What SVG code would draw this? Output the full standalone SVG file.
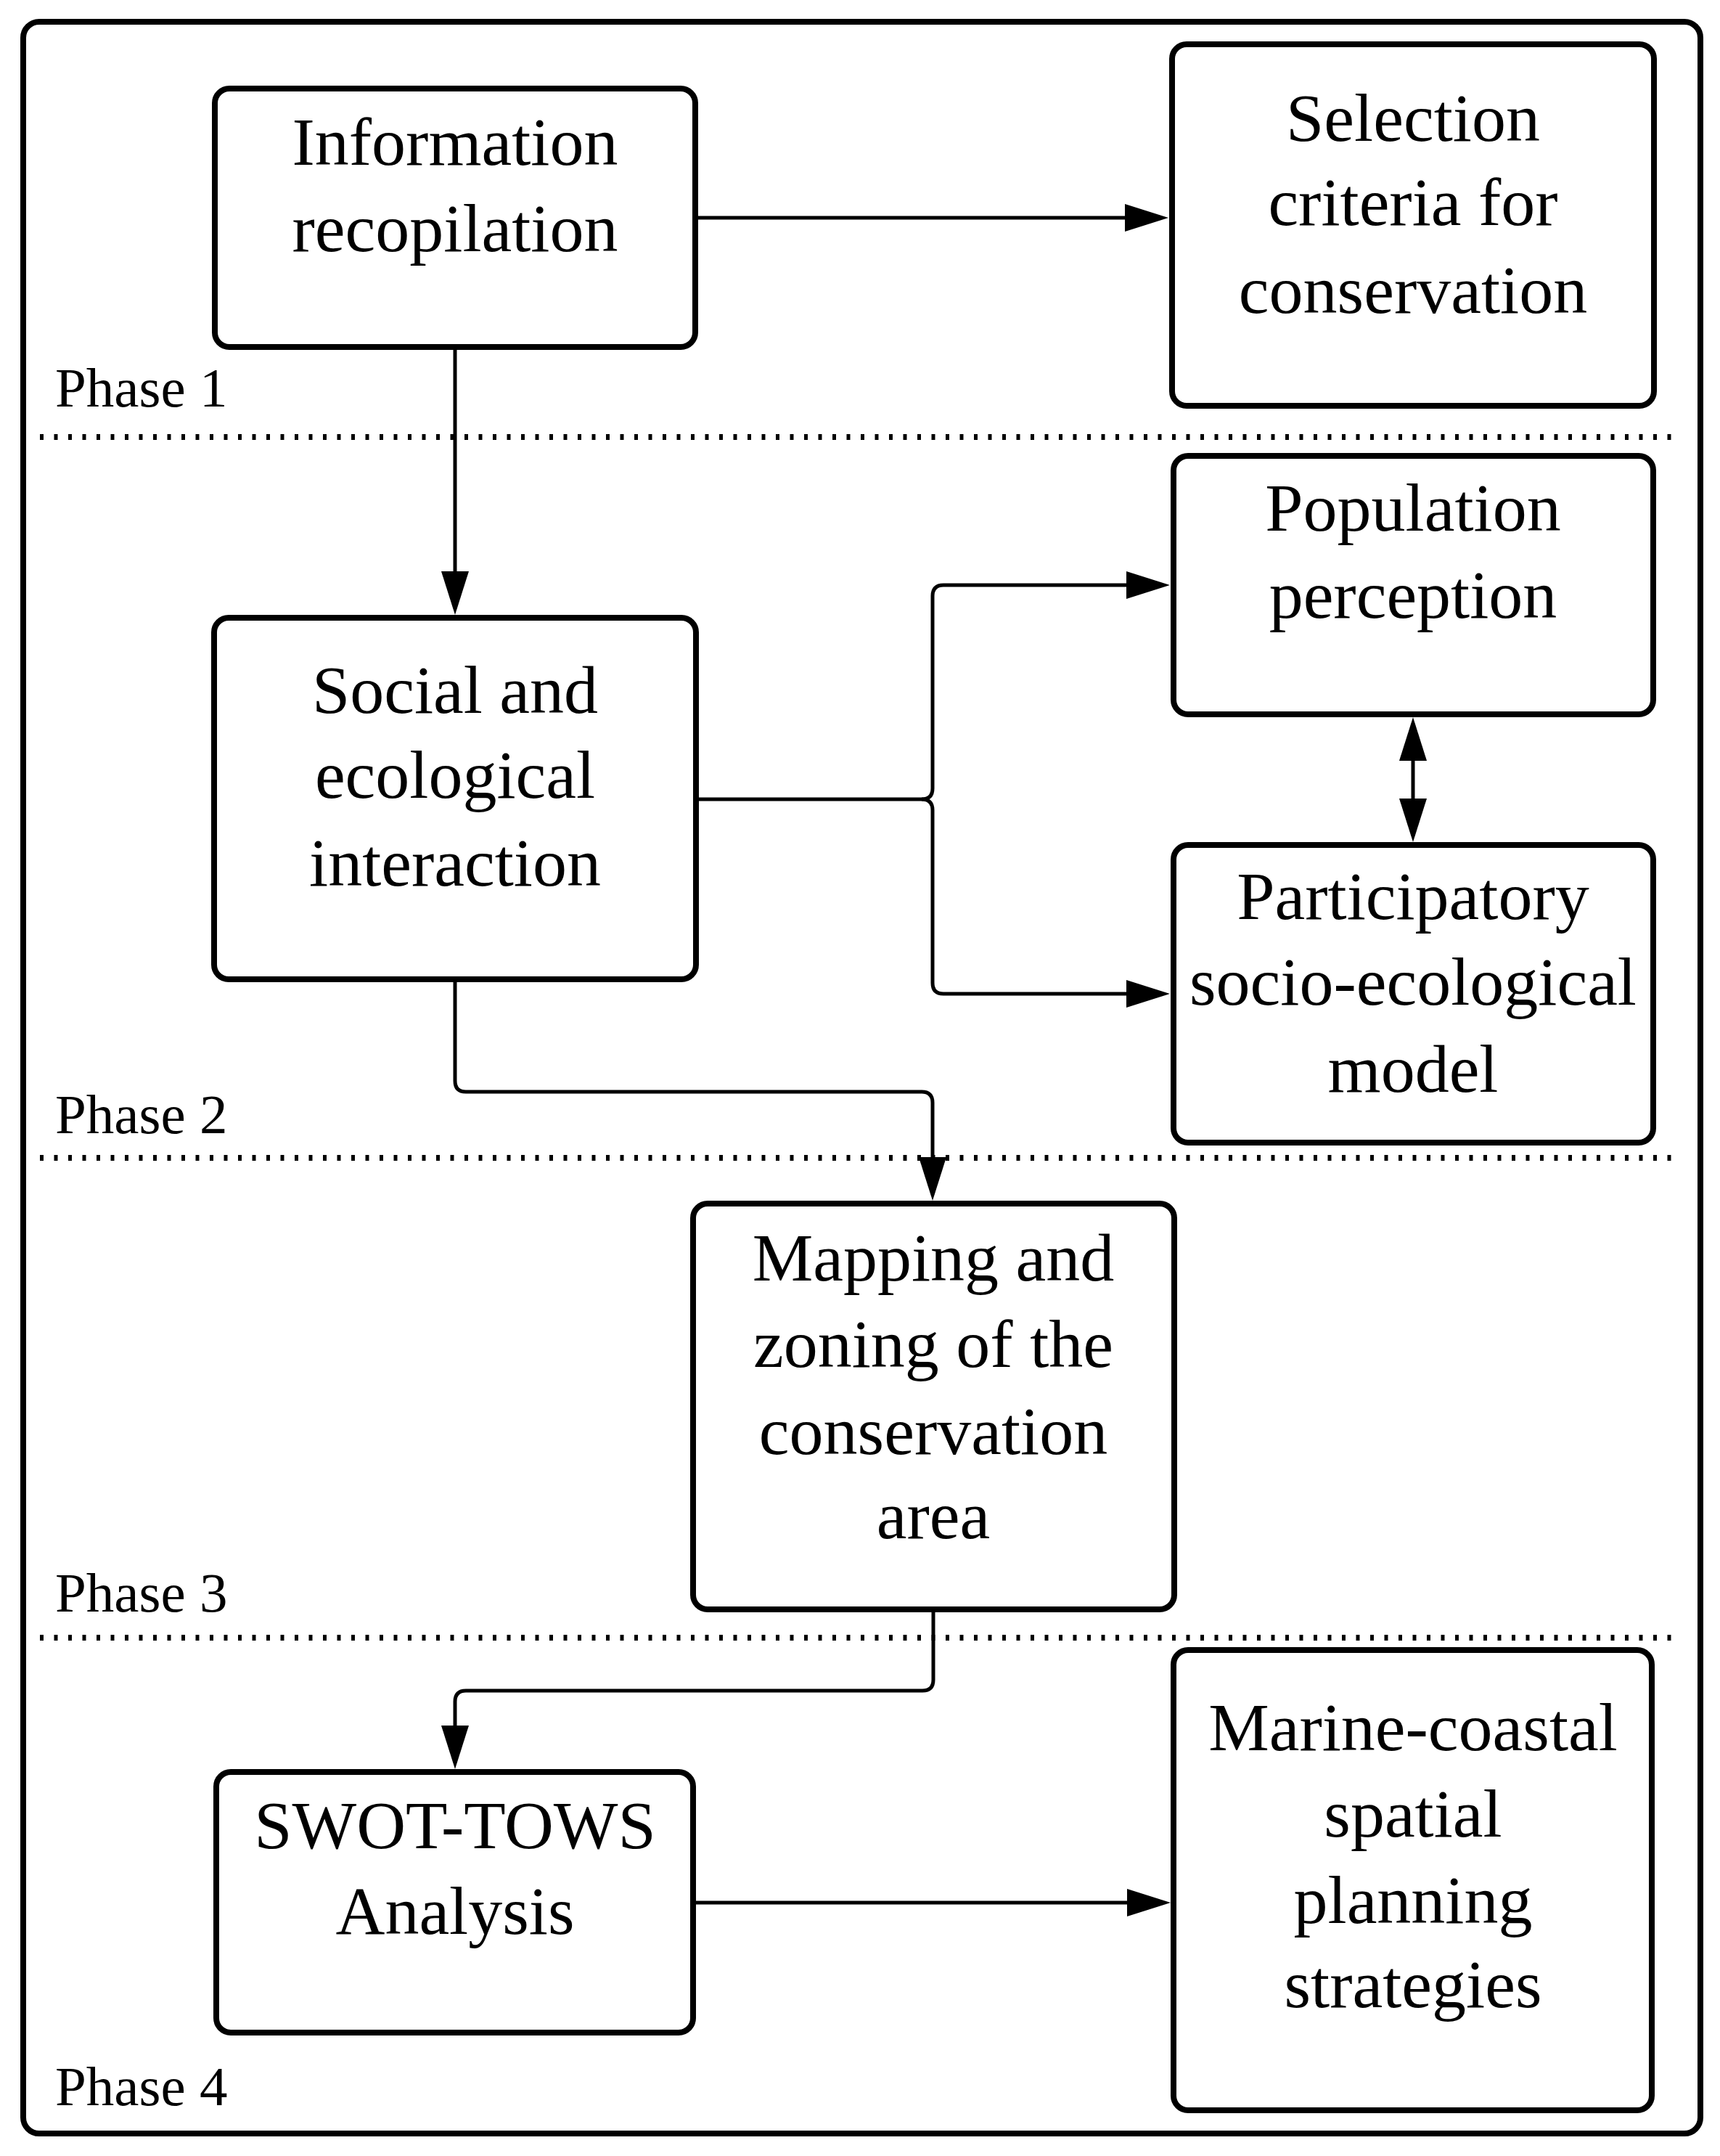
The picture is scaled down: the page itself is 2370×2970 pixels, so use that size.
<svg xmlns="http://www.w3.org/2000/svg" width="2370" height="2970" viewBox="0 0 2370 2970">
<style>
.box{fill:#fff;stroke:#000;stroke-width:8}
.lbl{font-family:"Liberation Serif","Times New Roman",serif;font-size:94px;text-anchor:middle;fill:#000}
.ph{font-family:"Liberation Serif","Times New Roman",serif;font-size:77px;fill:#000}
.con{fill:none;stroke:#000;stroke-width:5}
.dot{stroke:#000;stroke-width:8;stroke-dasharray:5 14.5;fill:none}
</style>
<defs>
<marker id="ah" markerUnits="userSpaceOnUse" markerWidth="60" markerHeight="40" refX="50" refY="20" orient="auto-start-reverse" viewBox="0 0 60 40">
<path d="M0,1 L60,20 L0,39 z" fill="#000"/>
</marker>
</defs>
<rect width="2370" height="2970" fill="#fff"/>
<g id="frame">
<rect x="32" y="30" width="2311" height="2909" rx="22" fill="none" stroke="#000" stroke-width="8"/>
<line class="dot" x1="55" y1="602" x2="2310" y2="602"/>
<line class="dot" x1="55" y1="1595" x2="2310" y2="1595"/>
<line class="dot" x1="55" y1="2256" x2="2310" y2="2256"/>
<text class="ph" x="76" y="560">Phase 1</text>
<text class="ph" x="76" y="1561">Phase 2</text>
<text class="ph" x="76" y="2220">Phase 3</text>
<text class="ph" x="76" y="2900">Phase 4</text>
</g>
<g id="connectors">
<path class="con" d="M957,300 H1600" marker-end="url(#ah)"/>
<path class="con" d="M627,478 V837" marker-end="url(#ah)"/>
<path class="con" d="M958,1101 H1270 Q1285,1101 1285,1086 V821 Q1285,806 1300,806 H1602" marker-end="url(#ah)"/>
<path class="con" d="M1270,1101 Q1285,1101 1285,1116 V1354 Q1285,1369 1300,1369 H1602" marker-end="url(#ah)"/>
<path class="con" d="M1947,998 V1150" marker-start="url(#ah)" marker-end="url(#ah)"/>
<path class="con" d="M627,1349 V1489 Q627,1504 642,1504 H1270 Q1285,1504 1285,1519 V1644" marker-end="url(#ah)"/>
<path class="con" d="M1286,2217 V2314 Q1286,2329 1271,2329 H642 Q627,2329 627,2344 V2427" marker-end="url(#ah)"/>
<path class="con" d="M955,2621 H1603" marker-end="url(#ah)"/>
</g>
<g id="info">
<rect class="box" x="296" y="122" width="662" height="356" rx="20"/>
<text class="lbl" x="627" y="227">Information</text>
<text class="lbl" x="627" y="346">recopilation</text>
</g>
<g id="selection">
<rect class="box" x="1615" y="61" width="664" height="498" rx="20"/>
<text class="lbl" x="1947" y="194">Selection</text>
<text class="lbl" x="1947" y="310">criteria for</text>
<text class="lbl" x="1947" y="431">conservation</text>
</g>
<g id="social">
<rect class="box" x="295" y="851" width="664" height="498" rx="20"/>
<text class="lbl" x="627" y="982">Social and</text>
<text class="lbl" x="627" y="1099">ecological</text>
<text class="lbl" x="627" y="1220">interaction</text>
</g>
<g id="population">
<rect class="box" x="1617" y="628" width="661" height="356" rx="20"/>
<text class="lbl" x="1947" y="731">Population</text>
<text class="lbl" x="1947" y="851">perception</text>
</g>
<g id="participatory">
<rect class="box" x="1617" y="1164" width="661" height="410" rx="20"/>
<text class="lbl" x="1947" y="1266">Participatory</text>
<text class="lbl" x="1947" y="1384">socio-ecological</text>
<text class="lbl" x="1947" y="1504">model</text>
</g>
<g id="mapping">
<rect class="box" x="955" y="1658" width="663" height="559" rx="20"/>
<text class="lbl" x="1286" y="1764">Mapping and</text>
<text class="lbl" x="1286" y="1883">zoning of the</text>
<text class="lbl" x="1286" y="2003">conservation</text>
<text class="lbl" x="1286" y="2119">area</text>
</g>
<g id="swot">
<rect class="box" x="298" y="2441" width="657" height="359" rx="20"/>
<text class="lbl" x="627" y="2546">SWOT-TOWS</text>
<text class="lbl" x="627" y="2664">Analysis</text>
</g>
<g id="marine">
<rect class="box" x="1617" y="2273" width="659" height="634" rx="20"/>
<text class="lbl" x="1947" y="2411">Marine-coastal</text>
<text class="lbl" x="1947" y="2530">spatial</text>
<text class="lbl" x="1947" y="2649">planning</text>
<text class="lbl" x="1947" y="2765">strategies</text>
</g>
</svg>
